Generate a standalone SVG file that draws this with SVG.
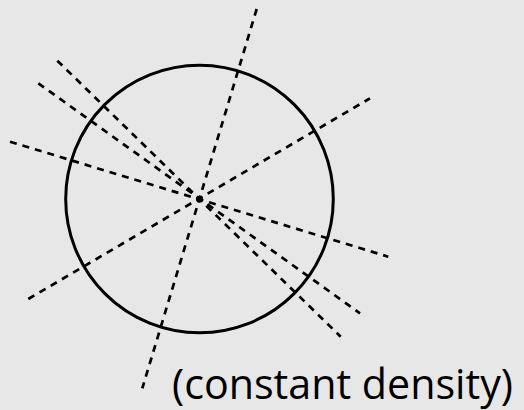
<svg xmlns="http://www.w3.org/2000/svg" width="524" height="410" viewBox="0 0 524 410">
<style>
.ray{stroke:#000;stroke-width:2.7;stroke-dasharray:7 6;fill:none}
.lbl{font-family:"Open Sans","Liberation Sans",sans-serif;font-size:42px;fill:#000}
</style>
<rect width="524" height="410" fill="#e7e7e7"/>
<g id="connectors">
<line class="ray" x1="256.7" y1="9" x2="142.3" y2="388.3"/>
<line class="ray" x1="28.3" y1="299" x2="370" y2="98.3"/>
<line class="ray" x1="10" y1="141.7" x2="388.3" y2="256.7"/>
<line class="ray" x1="38.3" y1="83.3" x2="360" y2="313.3"/>
<line class="ray" x1="57.3" y1="60.7" x2="340.7" y2="336.7"/>
</g>
<g id="circle">
<circle cx="199.5" cy="199" r="133.8" fill="none" stroke="#000" stroke-width="3"/>
</g>
<g id="center">
<circle cx="199.5" cy="199.2" r="3.4" fill="#000"/>
</g>
<g id="label">
<text class="lbl" x="172" y="399" textLength="341" lengthAdjust="spacingAndGlyphs">(constant density)</text>
</g>
</svg>
